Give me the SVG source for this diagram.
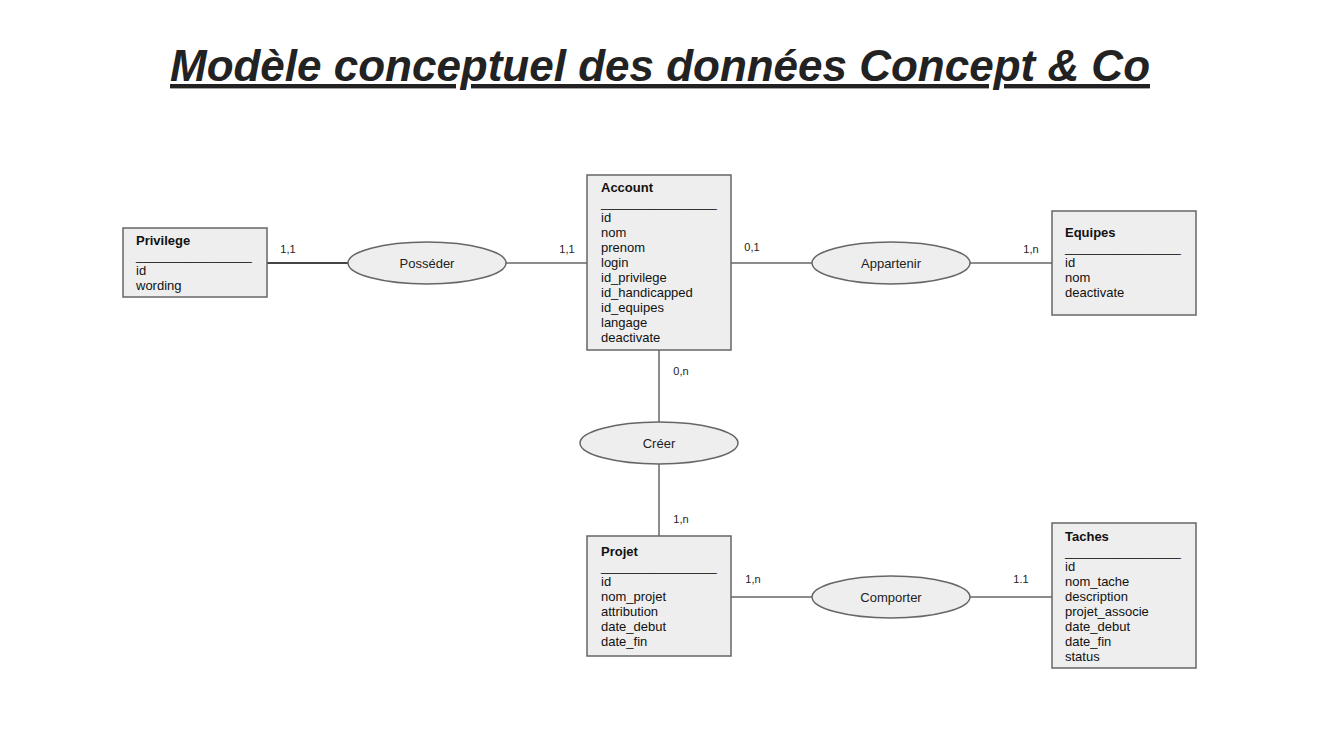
<svg xmlns="http://www.w3.org/2000/svg" width="1320" height="741" viewBox="0 0 1320 741">
<style>
.box{fill:#eeeeee;stroke:#666666;stroke-width:1.5}
.rel{fill:#eeeeee;stroke:#666666;stroke-width:1.5}
.t{font-family:"Liberation Sans",Arial,sans-serif;font-size:13px;fill:#111111}
.h{font-weight:bold}
.c{font-family:"Liberation Sans",Arial,sans-serif;font-size:11px;fill:#222222;text-anchor:middle}
.rl{font-family:"Liberation Sans",Arial,sans-serif;font-size:13px;fill:#222222;text-anchor:middle}
.ln{stroke:#666666;stroke-width:1.5;fill:none}
</style>
<rect width="1320" height="741" fill="#ffffff"/>
<text x="660" y="81" text-anchor="middle" textLength="980" lengthAdjust="spacingAndGlyphs" font-family="'Liberation Sans',Arial,sans-serif" font-size="44" font-weight="bold" font-style="italic" fill="#222222" text-decoration="underline">Modèle conceptuel des données Concept &amp; Co</text>

<g id="connectors">
<line class="ln" x1="267" y1="263" x2="348" y2="263" stroke-width="2.2" style="stroke:#444;stroke-width:2.2"/>
<line class="ln" x1="506" y1="263" x2="587" y2="263"/>
<line class="ln" x1="731" y1="263" x2="812" y2="263"/>
<line class="ln" x1="970" y1="263" x2="1052" y2="263"/>
<line class="ln" x1="659" y1="350" x2="659" y2="422"/>
<line class="ln" x1="659" y1="464" x2="659" y2="536"/>
<line class="ln" x1="731" y1="597" x2="812" y2="597"/>
<line class="ln" x1="970" y1="597" x2="1052" y2="597"/>
<text class="c" x="288" y="253">1,1</text>
<text class="c" x="567" y="253">1,1</text>
<text class="c" x="752" y="251">0,1</text>
<text class="c" x="1031" y="253">1,n</text>
<text class="c" x="681" y="375">0,n</text>
<text class="c" x="681" y="523">1,n</text>
<text class="c" x="753" y="583">1,n</text>
<text class="c" x="1021" y="583">1.1</text>
</g>

<g id="privilege">
<rect class="box" x="123" y="228" width="144" height="69"/>
<text class="t h" x="136" y="245">Privilege</text>
<text class="t" x="136" y="260">________________</text>
<text class="t" x="136" y="275">id</text>
<text class="t" x="136" y="290">wording</text>
</g>

<g id="account">
<rect class="box" x="587" y="175" width="144" height="175"/>
<text class="t h" x="601" y="192">Account</text>
<text class="t" x="601" y="207">________________</text>
<text class="t" x="601" y="222">id</text>
<text class="t" x="601" y="237">nom</text>
<text class="t" x="601" y="252">prenom</text>
<text class="t" x="601" y="267">login</text>
<text class="t" x="601" y="282">id_privilege</text>
<text class="t" x="601" y="297">id_handicapped</text>
<text class="t" x="601" y="312">id_equipes</text>
<text class="t" x="601" y="327">langage</text>
<text class="t" x="601" y="342">deactivate</text>
</g>

<g id="equipes">
<rect class="box" x="1052" y="211" width="144" height="104"/>
<text class="t h" x="1065" y="236.5">Equipes</text>
<text class="t" x="1065" y="251.5">________________</text>
<text class="t" x="1065" y="267">id</text>
<text class="t" x="1065" y="282">nom</text>
<text class="t" x="1065" y="297">deactivate</text>
</g>

<g id="projet">
<rect class="box" x="587" y="536" width="144" height="120"/>
<text class="t h" x="601" y="555.5">Projet</text>
<text class="t" x="601" y="570.5">________________</text>
<text class="t" x="601" y="585.5">id</text>
<text class="t" x="601" y="600.5">nom_projet</text>
<text class="t" x="601" y="615.5">attribution</text>
<text class="t" x="601" y="631">date_debut</text>
<text class="t" x="601" y="646">date_fin</text>
</g>

<g id="taches">
<rect class="box" x="1052" y="523" width="144" height="145"/>
<text class="t h" x="1065" y="540.5">Taches</text>
<text class="t" x="1065" y="555.5">________________</text>
<text class="t" x="1065" y="571">id</text>
<text class="t" x="1065" y="586">nom_tache</text>
<text class="t" x="1065" y="601">description</text>
<text class="t" x="1065" y="616">projet_associe</text>
<text class="t" x="1065" y="631">date_debut</text>
<text class="t" x="1065" y="646">date_fin</text>
<text class="t" x="1065" y="661">status</text>
</g>

<g id="posseder">
<ellipse class="rel" cx="427" cy="263" rx="79" ry="21"/>
<text class="rl" x="427" y="267.5">Posséder</text>
</g>

<g id="appartenir">
<ellipse class="rel" cx="891" cy="263" rx="79" ry="21"/>
<text class="rl" x="891" y="267.5">Appartenir</text>
</g>

<g id="creer">
<ellipse class="rel" cx="659" cy="443" rx="79" ry="21"/>
<text class="rl" x="659" y="447.5">Créer</text>
</g>

<g id="comporter">
<ellipse class="rel" cx="891" cy="597" rx="79" ry="21"/>
<text class="rl" x="891" y="601.5">Comporter</text>
</g>
</svg>
